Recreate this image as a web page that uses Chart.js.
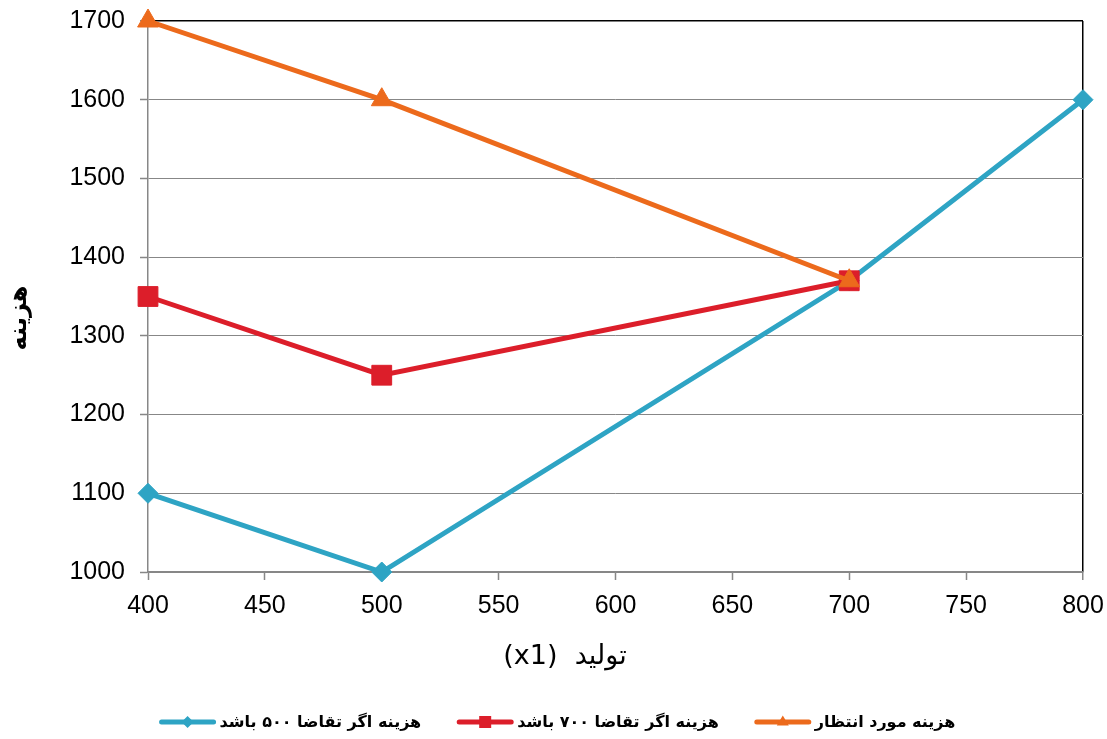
<!DOCTYPE html>
<html><head><meta charset="utf-8">
<script src="https://cdn.jsdelivr.net/npm/chart.js"></script>
<style>html,body{margin:0;padding:0;background:#fff}#wrap{width:1107px;height:739px}</style>
</head><body><div id="wrap"><canvas id="c" width="1107" height="739"></canvas></div>
<script>
// ---- data ----
const xValues = [400, 500, 700, 800];
const seriesNames = ['هزینه اگر تقاضا ۵۰۰ باشد', 'هزینه اگر تقاضا ۷۰۰ باشد', 'هزینه مورد انتظار'];
const cost500 = [1100, 1000, 1370, 1600];
const cost700 = [1350, 1250, 1370];
const costExpected = [1700, 1600, 1370];
const xTicks = [400, 450, 500, 550, 600, 650, 700, 750, 800];
const yTicks = [1000, 1100, 1200, 1300, 1400, 1500, 1600, 1700];
const yTitle = 'هزینه';
const xTitle = '(x1)  تولید';

const colors = ['#2ea4c4', '#dc1e2a', '#ec6a1c'];
const styles = ['rectRot', 'rect', 'triangle'];
const radii = [10, 14, 12];

const toPts = arr => arr.map((v, i) => ({x: xValues[i], y: v}));
const seriesData = [cost500, cost700, costExpected];

const datasets = seriesData.map((arr, i) => ({
  label: seriesNames[i],
  data: toPts(arr),
  borderColor: colors[i],
  backgroundColor: colors[i],
  pointBackgroundColor: colors[i],
  pointBorderColor: colors[i],
  pointBorderWidth: 1,
  pointStyle: styles[i],
  pointRadius: radii[i],
  pointHoverRadius: radii[i],
  borderWidth: 5,
  tension: 0,
  fill: false,
  clip: false,
  order: 2 - i
}));

const GRAY = '#878787';
const TICK_FONT = {family: '"Liberation Sans", Arial, sans-serif', size: 25};

function drawMarker(ctx, style, x, y, r) {
  ctx.beginPath();
  if (style === 'rectRot') {
    ctx.moveTo(x, y - r); ctx.lineTo(x + r, y); ctx.lineTo(x, y + r); ctx.lineTo(x - r, y);
  } else if (style === 'rect') {
    ctx.rect(x - r, y - r, 2 * r, 2 * r);
  } else {
    ctx.moveTo(x, y - r * 1.1); ctx.lineTo(x + r, y + r * 0.6); ctx.lineTo(x - r, y + r * 0.6);
  }
  ctx.closePath();
  ctx.fill();
}

const textPlugin = {
  id: 'texts',
  afterDraw(chart) {
    const ctx = chart.ctx;
    ctx.save();
    ctx.fillStyle = '#000';
    // y title
    ctx.save();
    ctx.translate(20, 318);
    ctx.rotate(-Math.PI / 2);
    ctx.font = 'bold 24px "DejaVu Sans", sans-serif';
    ctx.textAlign = 'center';
    ctx.textBaseline = 'middle';
    ctx.fillText(yTitle, 0, 0);
    ctx.restore();
    // x title
    ctx.font = '27px "DejaVu Sans", sans-serif';
    ctx.textAlign = 'center';
    ctx.textBaseline = 'middle';
    ctx.direction = 'ltr';
    ctx.fillText(xTitle, 565, 657);
    // legend
    ctx.font = 'bold 16px "DejaVu Sans", sans-serif';
    ctx.textAlign = 'left';
    const lineW = 56, gapBT = 4, gapItems = 36, ly = 722;
    const ds = chart.data.datasets;
    const widths = ds.map(d => lineW + gapBT + ctx.measureText(d.label).width);
    const total = widths.reduce((a, b) => a + b, 0) + gapItems * (ds.length - 1);
    let x = 557.5 - total / 2;
    const legR = [6, 6, 6];
    ds.forEach((d, i) => {
      ctx.strokeStyle = d.borderColor;
      ctx.fillStyle = d.borderColor;
      ctx.lineWidth = 5;
      ctx.lineCap = 'round';
      ctx.beginPath();
      ctx.moveTo(x + 2, ly); ctx.lineTo(x + lineW - 2, ly);
      ctx.stroke();
      drawMarker(ctx, d.pointStyle, x + lineW / 2, ly, legR[i]);
      ctx.fillStyle = '#000';
      ctx.fillText(d.label, x + lineW + gapBT, ly + 1);
      x += widths[i] + gapItems;
    });
    ctx.restore();
  }
};

new Chart(document.getElementById('c'), {
  type: 'line',
  data: {datasets},
  options: {
    responsive: false,
    animation: false,
    devicePixelRatio: 1,
    layout: {padding: {left: 48, top: 21, right: 24, bottom: 116}},
    plugins: {legend: {display: false}, tooltip: {enabled: false}, title: {display: false}},
    scales: {
      x: {
        type: 'linear', min: 400, max: 800,
        afterBuildTicks: s => { s.ticks = xTicks.map(v => ({value: v})); },
        afterFit: s => { s.height = 51; s.paddingLeft = 0; s.paddingRight = 0; },
        ticks: {font: TICK_FONT, color: '#000', padding: 11, maxRotation: 0, autoSkip: false,
                callback: v => String(v)},
        grid: {
          drawOnChartArea: true,
          color: c => (c.tick && c.tick.value === 800) ? '#000' : 'rgba(0,0,0,0)',
          lineWidth: c => (c.tick && c.tick.value === 800) ? 1.5 : 1,
          tickColor: GRAY, tickLength: 8, tickWidth: 1.5
        },
        border: {color: GRAY, width: 1.5}
      },
      y: {
        type: 'linear', min: 1000, max: 1700,
        afterBuildTicks: s => { s.ticks = yTicks.map(v => ({value: v})); },
        afterFit: s => { s.width = 100; s.paddingTop = 0; s.paddingBottom = 0; },
        ticks: {font: TICK_FONT, color: '#000', padding: 15, autoSkip: false,
                callback: v => String(v)},
        grid: {
          color: c => (c.tick && c.tick.value === 1700) ? '#000' : GRAY,
          lineWidth: c => (c.tick && c.tick.value === 1700) ? 1.5 : 1,
          tickColor: GRAY, tickLength: 8, tickWidth: 1.5
        },
        border: {color: GRAY, width: 1.5}
      }
    }
  },
  plugins: [textPlugin]
});
</script>
</body></html>
